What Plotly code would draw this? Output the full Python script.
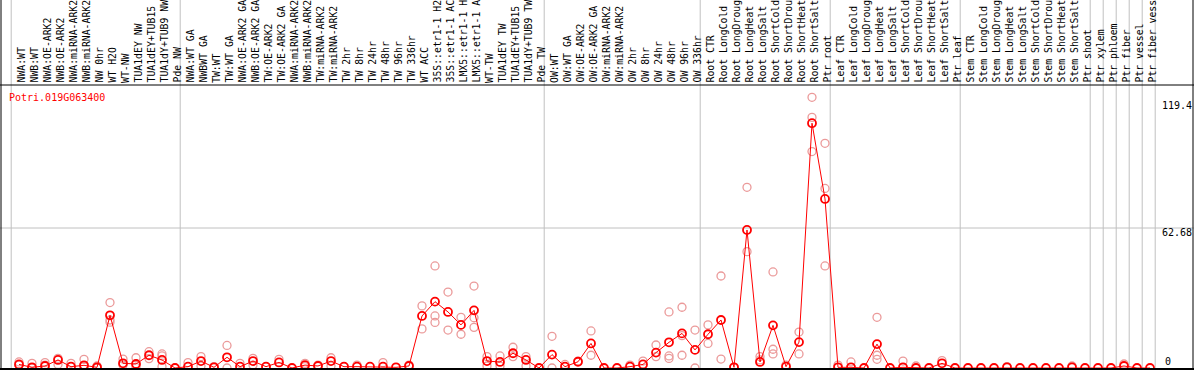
import plotly.graph_objects as go

gene = "Potri.019G063400"

labels = [
    "NWA:WT", "NWB:WT", "NWA:OE-ARK2", "NWB:OE-ARK2", "NWA:miRNA-ARK2", "NWB:miRNA-ARK2",
    "NW 0hr", "WT H2O", "WT-NW", "TUA1dEY NW", "TUA1dEY+TUB15", "TUA1dY+TUB9 NW", "Pde NW",
    "NWA:WT GA", "NWBWT GA", "TW:WT", "TW:WT GA", "NWA:OE-ARK2 GA", "NWB:OE-ARK2 GA",
    "TW:OE-ARK2", "TW:OE-ARK2 GA", "NWA:miRNA-ARK2", "NWB:miRNA-ARK2", "TW:miRNA-ARK2",
    "TW:miRNA-ARK2", "TW 2hr", "TW 8hr", "TW 24hr", "TW 48hr", "TW 96hr", "TW 336hr",
    "WT ACC", "35S::etr1-1 H2", "35S::etr1-1 AC", "LMX5::etr1-1 H", "LMX5::etr1-1 A",
    "WT-TW", "TUA1dEY TW", "TUA1dEY+TUB15", "TUA1dY+TUB9 TW", "Pde TW",
    "OW:WT", "OW:WT GA", "OW:OE-ARK2", "OW:OE-ARK2 GA", "OW:miRNA-ARK2", "OW:miRNA-ARK2",
    "OW 2hr", "OW 8hr", "OW 24hr", "OW 48hr", "OW 96hr", "OW 336hr",
    "Root CTR", "Root LongCold", "Root LongDroug", "Root LongHeat", "Root LongSalt",
    "Root ShortCold", "Root ShortDrou", "Root ShortHeat", "Root ShortSalt", "Ptr root",
    "Leaf CTR", "Leaf LongCold", "Leaf LongDroug", "Leaf LongHeat", "Leaf LongSalt",
    "Leaf ShortCold", "Leaf ShortDrou", "Leaf ShortHeat", "Leaf ShortSalt", "Ptr leaf",
    "Stem CTR", "Stem LongCold", "Stem LongDroug", "Stem LongHeat", "Stem LongSalt",
    "Stem ShortCold", "Stem ShortDrou", "Stem ShortHeat", "Stem ShortSalt", "Ptr shoot",
    "Ptr xylem", "Ptr phloem", "Ptr fiber", "Ptr vessel", "Ptr fiber vess",
]

means = [
    1.6, 0.3, 0.9, 3.6, 0.6, 1.2, 0.3, 23.6, 2.1, 1.8, 5.7, 3.6, 0.0,
    0.6, 3.1, 0.3, 4.8, 0.6, 3.1, 0.6, 2.5, 0.0, 1.3, 0.9, 3.1, 0.6, 0.6, 0.6, 0.6,
    0.3, 0.9, 23.3, 29.7, 25.1, 19.3, 25.8, 3.1, 2.7, 6.6, 3.6, 0.0,
    6.0, 0.6, 2.8, 11.0, 0.0, 0.0, 0.6, 1.6, 6.9, 11.5, 15.5, 8.1,
    15.1, 21.5, 0.3, 61.8, 2.7, 19.1, 0.6, 11.6, 109.6, 75.7,
    0.3, 0.3, 0.0, 10.7, 0.0, 0.3, 0.0, 0.0, 2.1, 0.0,
    0.0, 0.0, 0.0, 0.3, 0.0, 0.0, 0.0, 0.0, 0.3, 0.0,
    0.0, 0.0, 0.9, 0.0, 0.0,
]

replicates = [
    [2.7, 1.3], [2.1, 0.0], [2.4, 1.3], [4.3, 1.6], [2.1, 0.6], [3.9, 0.6], [0.9, 0.0],
    [29.3, 21.5, 20.5], [4.0, 1.3], [4.6, 0.3], [7.3, 4.2], [6.3, 5.4, 0.6], [0.0],
    [2.4], [5.1, 0.9], [0.6], [10.1, 0.0], [2.1], [4.3, 1.3], [0.6], [3.9], [],
    [2.1, 0.6], [1.3], [4.6, 0.9], [0.6], [1.3], [], [2.4],
    [], [1.3], [27.8, 17.5], [45.7, 23.3, 20.4], [34.0, 17.0], [22.7, 15.1],
    [36.7, 22.5, 18.2], [5.1, 0.9], [5.4, 0.9], [9.3, 5.1], [5.1, 0.9], [],
    [14.2, 0.0], [1.6], [3.1], [16.6, 5.7], [], [], [1.3], [3.1], [10.3, 5.1],
    [25.1, 5.4, 4.3], [27.2, 14.5, 5.7], [17.0, 0.0],
    [19.3, 11.0], [41.2, 4.0], [0.3], [80.9, 52.1], [5.1, 3.6], [43.0, 8.4, 6.3],
    [1.3], [16.1, 6.3], [121.2, 112.2, 96.9], [100.6, 80.4, 45.7],
    [1.3], [2.7], [], [22.7, 5.7, 3.9], [], [3.1], [0.9], [], [3.3], [],
    [], [], [], [0.6], [], [], [], [], [0.9], [],
    [], [], [1.8], [], [],
]

group_sizes = [13, 28, 12, 10, 10, 10, 1, 1, 1, 1, 1]
y_ticks = [119.4, 62.68, 0]
y_tick_text = ["119.4", "62.68", "0"]

# ---- geometry ----
W, H = 1194, 370
COL_PX = 13.0
X0_PX = 19.0
BASE_PX = 368.0
UNIT_PX = 140.0 / 62.68
HEADER_PX = 85.0
FONT = "DejaVu Sans Mono"

x_range = [-X0_PX / COL_PX, (W - X0_PX) / COL_PX]
y_range = [-(H - BASE_PX) / UNIT_PX, BASE_PX / UNIT_PX]

def px_x(p):
    return p / W

def px_y(p):
    return 1 - p / H

n = len(labels)
xs = list(range(n))

rep_x, rep_y = [], []
for i, vals in enumerate(replicates):
    for v in vals:
        rep_x.append(i)
        rep_y.append(v)

fig = go.Figure()

fig.add_trace(go.Scatter(
    x=rep_x, y=rep_y, mode="markers",
    marker=dict(symbol="circle-open", size=8, color="#eb9a9a", line=dict(width=1.3, color="#eb9a9a")),
    hoverinfo="skip", showlegend=False, cliponaxis=False,
))
fig.add_trace(go.Scatter(
    x=xs, y=means, mode="lines+markers",
    line=dict(color="#ff0000", width=1),
    marker=dict(symbol="circle-open", size=8, color="#ff0000", line=dict(width=1.8, color="#ff0000")),
    showlegend=False, cliponaxis=False,
))

shapes = []
b = 0
for g in group_sizes:
    b_line = b - 0.6
    shapes.append(dict(type="line", xref="x", yref="paper", x0=b_line, x1=b_line, y0=0, y1=1,
                       line=dict(color="#c0c0c0", width=1), layer="below"))
    b += g
shapes.append(dict(type="line", xref="x", yref="paper", x0=b - 0.6, x1=b - 0.6, y0=0, y1=1,
                   line=dict(color="#c0c0c0", width=1), layer="below"))
shapes.append(dict(type="line", xref="paper", yref="y", x0=0, x1=1, y0=y_ticks[1], y1=y_ticks[1],
                   line=dict(color="#c0c0c0", width=1), layer="below"))
shapes.append(dict(type="line", xref="paper", yref="paper", x0=0, x1=1,
                   y0=px_y(HEADER_PX), y1=px_y(HEADER_PX), line=dict(color="black", width=1)))
shapes.append(dict(type="line", xref="paper", yref="paper", x0=px_x(1), x1=px_x(1), y0=0, y1=1,
                   line=dict(color="black", width=1)))
shapes.append(dict(type="line", xref="paper", yref="paper", x0=px_x(1193), x1=px_x(1193), y0=0, y1=1,
                   line=dict(color="black", width=1)))
shapes.append(dict(type="line", xref="paper", yref="paper", x0=0, x1=1,
                   y0=px_y(369), y1=px_y(369), line=dict(color="black", width=2)))

annotations = []
for i, lab in enumerate(labels):
    annotations.append(dict(
        x=i, xref="x", y=px_y(84), yref="paper", text=lab, textangle=-90,
        showarrow=False, xanchor="center", yanchor="bottom", borderpad=0, xshift=2,
        font=dict(family=FONT, size=9.8, color="black"),
    ))

annotations.append(dict(
    x=px_x(8), xref="paper", y=px_y(97), yref="paper", text=gene, showarrow=False,
    xanchor="left", yanchor="middle", borderpad=0,
    font=dict(family=FONT, size=10, color="#ff0000"),
))

for v, t in zip(y_ticks, y_tick_text):
    if v == 0:
        annotations.append(dict(x=px_x(1164), xref="paper", y=v, yref="y", text=t, showarrow=False,
                                xanchor="left", yanchor="bottom", yshift=0, borderpad=0,
                                font=dict(family=FONT, size=10, color="black")))
    else:
        annotations.append(dict(x=px_x(1161), xref="paper", y=v, yref="y", text=t, showarrow=False,
                                xanchor="left", yanchor="top", yshift=2, borderpad=0,
                                font=dict(family=FONT, size=10, color="black")))

fig.update_layout(
    width=W, height=H,
    margin=dict(l=0, r=0, t=0, b=0, pad=0),
    paper_bgcolor="white", plot_bgcolor="white",
    xaxis=dict(range=x_range, visible=False, fixedrange=True),
    yaxis=dict(range=y_range, visible=False, fixedrange=True),
    shapes=shapes, annotations=annotations, showlegend=False,
)

fig.write_html(
    "out.html",
    config={"displayModeBar": False},
    post_script="document.body.style.margin='0';document.body.style.padding='0';",
)
